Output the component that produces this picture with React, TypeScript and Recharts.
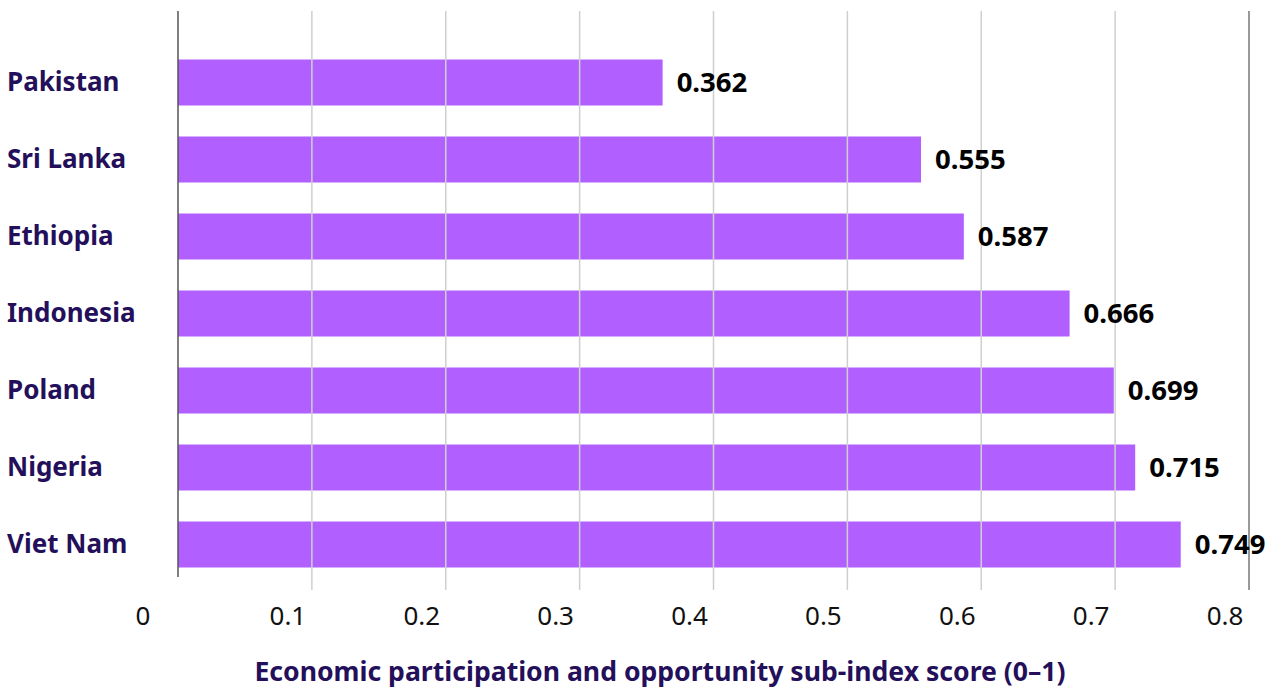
import { BarChart, Bar, XAxis, YAxis, ReferenceLine, LabelList, Customized } from 'recharts';

const countries = ['Pakistan', 'Sri Lanka', 'Ethiopia', 'Indonesia', 'Poland', 'Nigeria', 'Viet Nam'];
const scores = [0.362, 0.555, 0.587, 0.666, 0.699, 0.715, 0.749];
const xTicks = [0, 0.1, 0.2, 0.3, 0.4, 0.5, 0.6, 0.7, 0.8];
const gridValues = [0.1, 0.2, 0.3, 0.4, 0.5, 0.6, 0.7];
const axisTitle = 'Economic participation and opportunity sub-index score (0–1)';

const data = countries.map((country, i) => ({ country, score: scores[i] }));

const FONT = '"Noto Sans", "Open Sans", sans-serif';
const PURPLE = '#b160ff';
const DARK = '#24105a';

// country names, left aligned at the page edge
const CountryTick = ({ y, payload }: any) => (
  <text x={7} y={y} dy={9} textAnchor="start" fill={DARK} fontSize={26} fontWeight={700} fontFamily={FONT}>
    {payload.value}
  </text>
);

// tick labels sit a bit left of their gridlines
const ValueTick = ({ x, y, payload }: any) => (
  <text
    x={payload.value === 0 ? x - 35 : x - 24}
    y={y}
    dy={27}
    textAnchor="middle"
    fill="#111"
    fontSize={26}
    fontFamily={FONT}
  >
    {payload.value}
  </text>
);

const AxisTitle = () => (
  <text x={660} y={681} textAnchor="middle" fill={DARK} fontSize={26.6} fontWeight={700} fontFamily={FONT}>
    {axisTitle}
  </text>
);

// axis line at zero stops a little above the gridlines' ends
const ZeroLine = (p: any) => {
  const top = Math.min(p.y1, p.y2);
  const bottom = Math.max(p.y1, p.y2);
  return <line x1={p.x1} y1={top} x2={p.x2} y2={bottom - 13} stroke="#555" strokeWidth={1.5} />;
};

export default function App() {
  return (
    <div style={{ position: 'absolute', left: 0, top: 0, background: '#fff' }}>
      <BarChart
        width={1274}
        height={690}
        data={data}
        layout="vertical"
        margin={{ top: 11, right: 25, left: 0, bottom: 0 }}
      >
        <XAxis
          type="number"
          domain={[0, 0.8]}
          ticks={xTicks}
          axisLine={false}
          tickLine={false}
          height={100}
          tick={<ValueTick />}
          interval={0}
        />
        <YAxis
          type="category"
          dataKey="country"
          width={178}
          axisLine={false}
          tickLine={false}
          tick={<CountryTick />}
          padding={{ top: 32.5, bottom: 7.5 }}
        />
        {gridValues.map((v) => (
          <ReferenceLine key={v} x={v} stroke="#cfcfcf" strokeWidth={1.5} />
        ))}
        <ReferenceLine x={0.8} stroke="#777" strokeWidth={1.5} />
        <ReferenceLine x={0} shape={ZeroLine} />
        <Bar dataKey="score" fill={PURPLE} barSize={46} isAnimationActive={false}>
          <LabelList
            dataKey="score"
            position="right"
            offset={14}
            fill="#000"
            fontSize={27.5}
            fontWeight={700}
            fontFamily={FONT}
            formatter={(v: any) => Number(v).toFixed(3)}
          />
        </Bar>
        <Customized component={AxisTitle} />
      </BarChart>
    </div>
  );
}
